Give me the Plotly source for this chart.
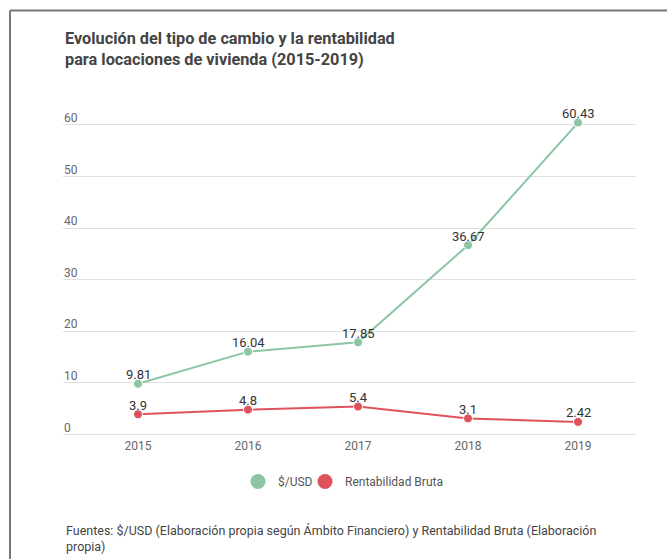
import plotly.graph_objects as go

years = [2015, 2016, 2017, 2018, 2019]
usd = [9.81, 16.04, 17.85, 36.67, 60.43]
rent = [3.9, 4.8, 5.4, 3.1, 2.42]
usd_labels = ["9.81", "16.04", "17.85", "36.67", "60.43"]
rent_labels = ["3.9", "4.8", "5.4", "3.1", "2.42"]
yticks = [0, 10, 20, 30, 40, 50, 60]

GREEN = "#8cc5a3"
RED = "#e0525a"
FONT = "Roboto"

fig = go.Figure()
for name, ys, col in [("$/USD", usd, GREEN), ("Rentabilidad Bruta", rent, RED)]:
    fig.add_trace(go.Scatter(
        x=years, y=ys, name=name, mode="lines+markers", showlegend=False,
        line=dict(color=col, width=2),
        marker=dict(size=9, color=col, line=dict(color="white", width=1)),
        cliponaxis=False,
    ))
# legend entries (marker only), one legend box each to control spacing
for name, col, lg in [("$/USD", GREEN, "legend"), ("Rentabilidad Bruta", RED, "legend2")]:
    fig.add_trace(go.Scatter(
        x=[None], y=[None], name=name, mode="markers", legend=lg,
        marker=dict(size=15, color=col),
    ))

# data labels
for ys, labels in [(usd, usd_labels), (rent, rent_labels)]:
    for x, y, t in zip(years, ys, labels):
        fig.add_annotation(x=x, y=y, text=t, showarrow=False, yshift=9,
                           xanchor="center", yanchor="middle",
                           font=dict(family=FONT, size=13, color="#333333"))

# plot area: x 63..636 px, y 0 -> 434 px, 60 -> 125 px
W, H = 667, 559
ml, mr = 63, W - 636
ymin, ymax = -0.5, 65
ppu = (434 - 125) / 60.0
top_px = 434 - ymax * ppu
bot_px = 434 - ymin * ppu
mt = top_px
mb = H - bot_px
PH = H - mt - mb
PW = W - ml - mr

def py(px):
    return (H - px - mb) / PH

def px_(x):
    return (x - ml) / PW

legend_common = dict(orientation="h", yanchor="middle", y=py(481), xanchor="left",
                     font=dict(family=FONT, size=12, color="#555555"),
                     itemsizing="trace", itemwidth=30, bgcolor="rgba(0,0,0,0)")

fig.update_layout(
    width=W, height=H,
    margin=dict(l=ml, r=mr, t=mt, b=mb, pad=0),
    paper_bgcolor="white", plot_bgcolor="white",
    font=dict(family=FONT, color="#555555"),
    showlegend=True,
    legend=dict(x=px_(238), **legend_common),
    legend2=dict(x=px_(305), **legend_common),
    xaxis=dict(range=[2014.318, 2019.527], tickmode="array", tickvals=years,
               ticktext=[str(y) for y in years], showgrid=False, zeroline=False,
               showline=False, ticks="", ticklabelstandoff=0,
               tickfont=dict(family=FONT, size=12, color="#666666")),
    yaxis=dict(range=[ymin, ymax], tickmode="array", tickvals=yticks,
               ticktext=[str(v) for v in yticks], showgrid=True, gridcolor="#e0e0e0",
               gridwidth=1, zeroline=False, showline=False, ticks="",
               ticklabelposition="inside", ticklabelshift=-7, ticklabelstandoff=-2,
               tickfont=dict(family=FONT, size=12, color="#666666")),
    title=dict(text="<b>Evolución del tipo de cambio y la rentabilidad<br>para locaciones de vivienda (2015-2019)</b>",
               x=65 / W, xanchor="left", y=1 - 44 / H, yanchor="middle",
               font=dict(family=FONT, size=16.3, color="#444444")),
)

fig.add_annotation(
    text="Fuentes: $/USD (Elaboración propia según Ámbito Financiero) y Rentabilidad Bruta (Elaboración<br>propia)",
    xref="paper", yref="paper", x=px_(64), xanchor="left",
    y=py(538), yanchor="middle", showarrow=False, align="left",
    font=dict(family=FONT, size=12.5, color="#444444"),
)

# border lines (top and left)
fig.add_shape(type="line", xref="paper", yref="paper",
              x0=px_(10), x1=px_(W + 2), y0=py(11), y1=py(11),
              line=dict(color="#777777", width=2))
fig.add_shape(type="line", xref="paper", yref="paper",
              x0=px_(10), x1=px_(10), y0=py(11), y1=py(H + 5),
              line=dict(color="#777777", width=2))

fig.write_html("out.html")
